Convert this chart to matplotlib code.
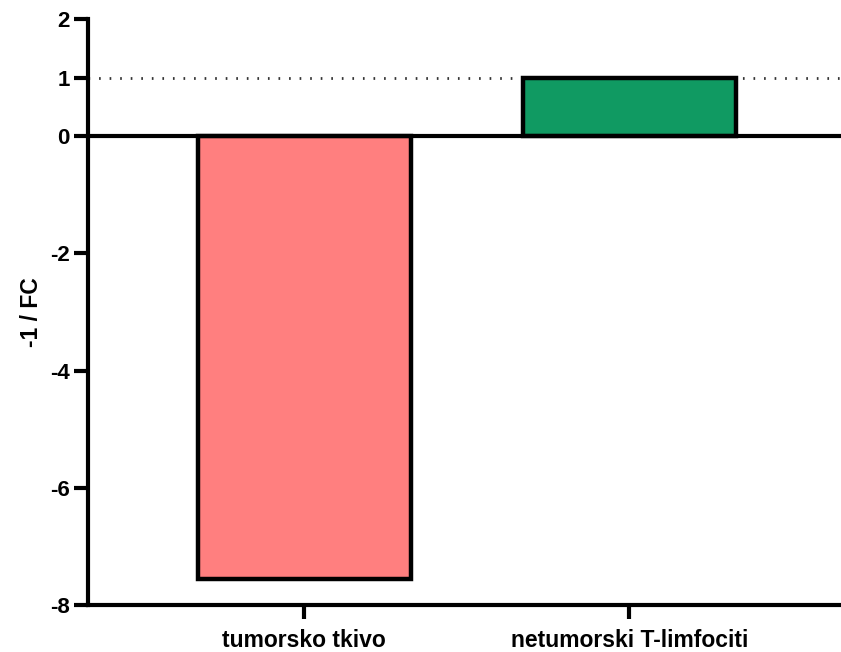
import matplotlib
matplotlib.use('Agg')
import matplotlib.pyplot as plt

categories = ["tumorsko tkivo", "netumorski T-limfociti"]
values = [-7.55, 1.0]
colors = ["#FF7F7F", "#109A62"]
yticks = [-8, -6, -4, -2, 0, 1, 2]

plt.rcParams['font.family'] = ['Liberation Sans', 'DejaVu Sans']
plt.rcParams['font.weight'] = 'bold'


def plot_data():
    fig = plt.figure(figsize=(8.41, 6.52), dpi=100)
    ax = fig.add_axes([88 / 841, 1 - 605 / 652, 1 - 88 / 841, (605 - 19) / 652])

    x = range(len(categories))
    ax.bar(x, values, width=0.655, color=colors, edgecolor='black', linewidth=3.2, zorder=3)
    ax.axhline(0, color='black', linewidth=3, zorder=4)
    ax.axhline(1, color='#333333', linewidth=2, linestyle=(0, (0.6, 3.2)), zorder=2)

    ax.set_xlim(-0.664, 1.65)
    ax.set_ylim(-8, 2)
    ax.set_xticks(list(x))
    ax.set_xticklabels(categories, fontsize=16.5, fontweight='bold')
    ax.set_yticks(yticks)
    ax.set_yticklabels([str(t) for t in yticks], fontsize=16, fontweight='bold')
    ax.set_ylabel("-1 / FC", fontsize=16.5, fontweight='bold', labelpad=5)

    for side in ['top', 'right']:
        ax.spines[side].set_visible(False)
    for side in ['left', 'bottom']:
        ax.spines[side].set_linewidth(3)
    ax.tick_params(axis='both', width=3, length=10, pad=3)
    ax.tick_params(axis='x', pad=7)

    fig.savefig('out.png', dpi=100)


def main():
    plot_data()


if __name__ == '__main__':
    main()
